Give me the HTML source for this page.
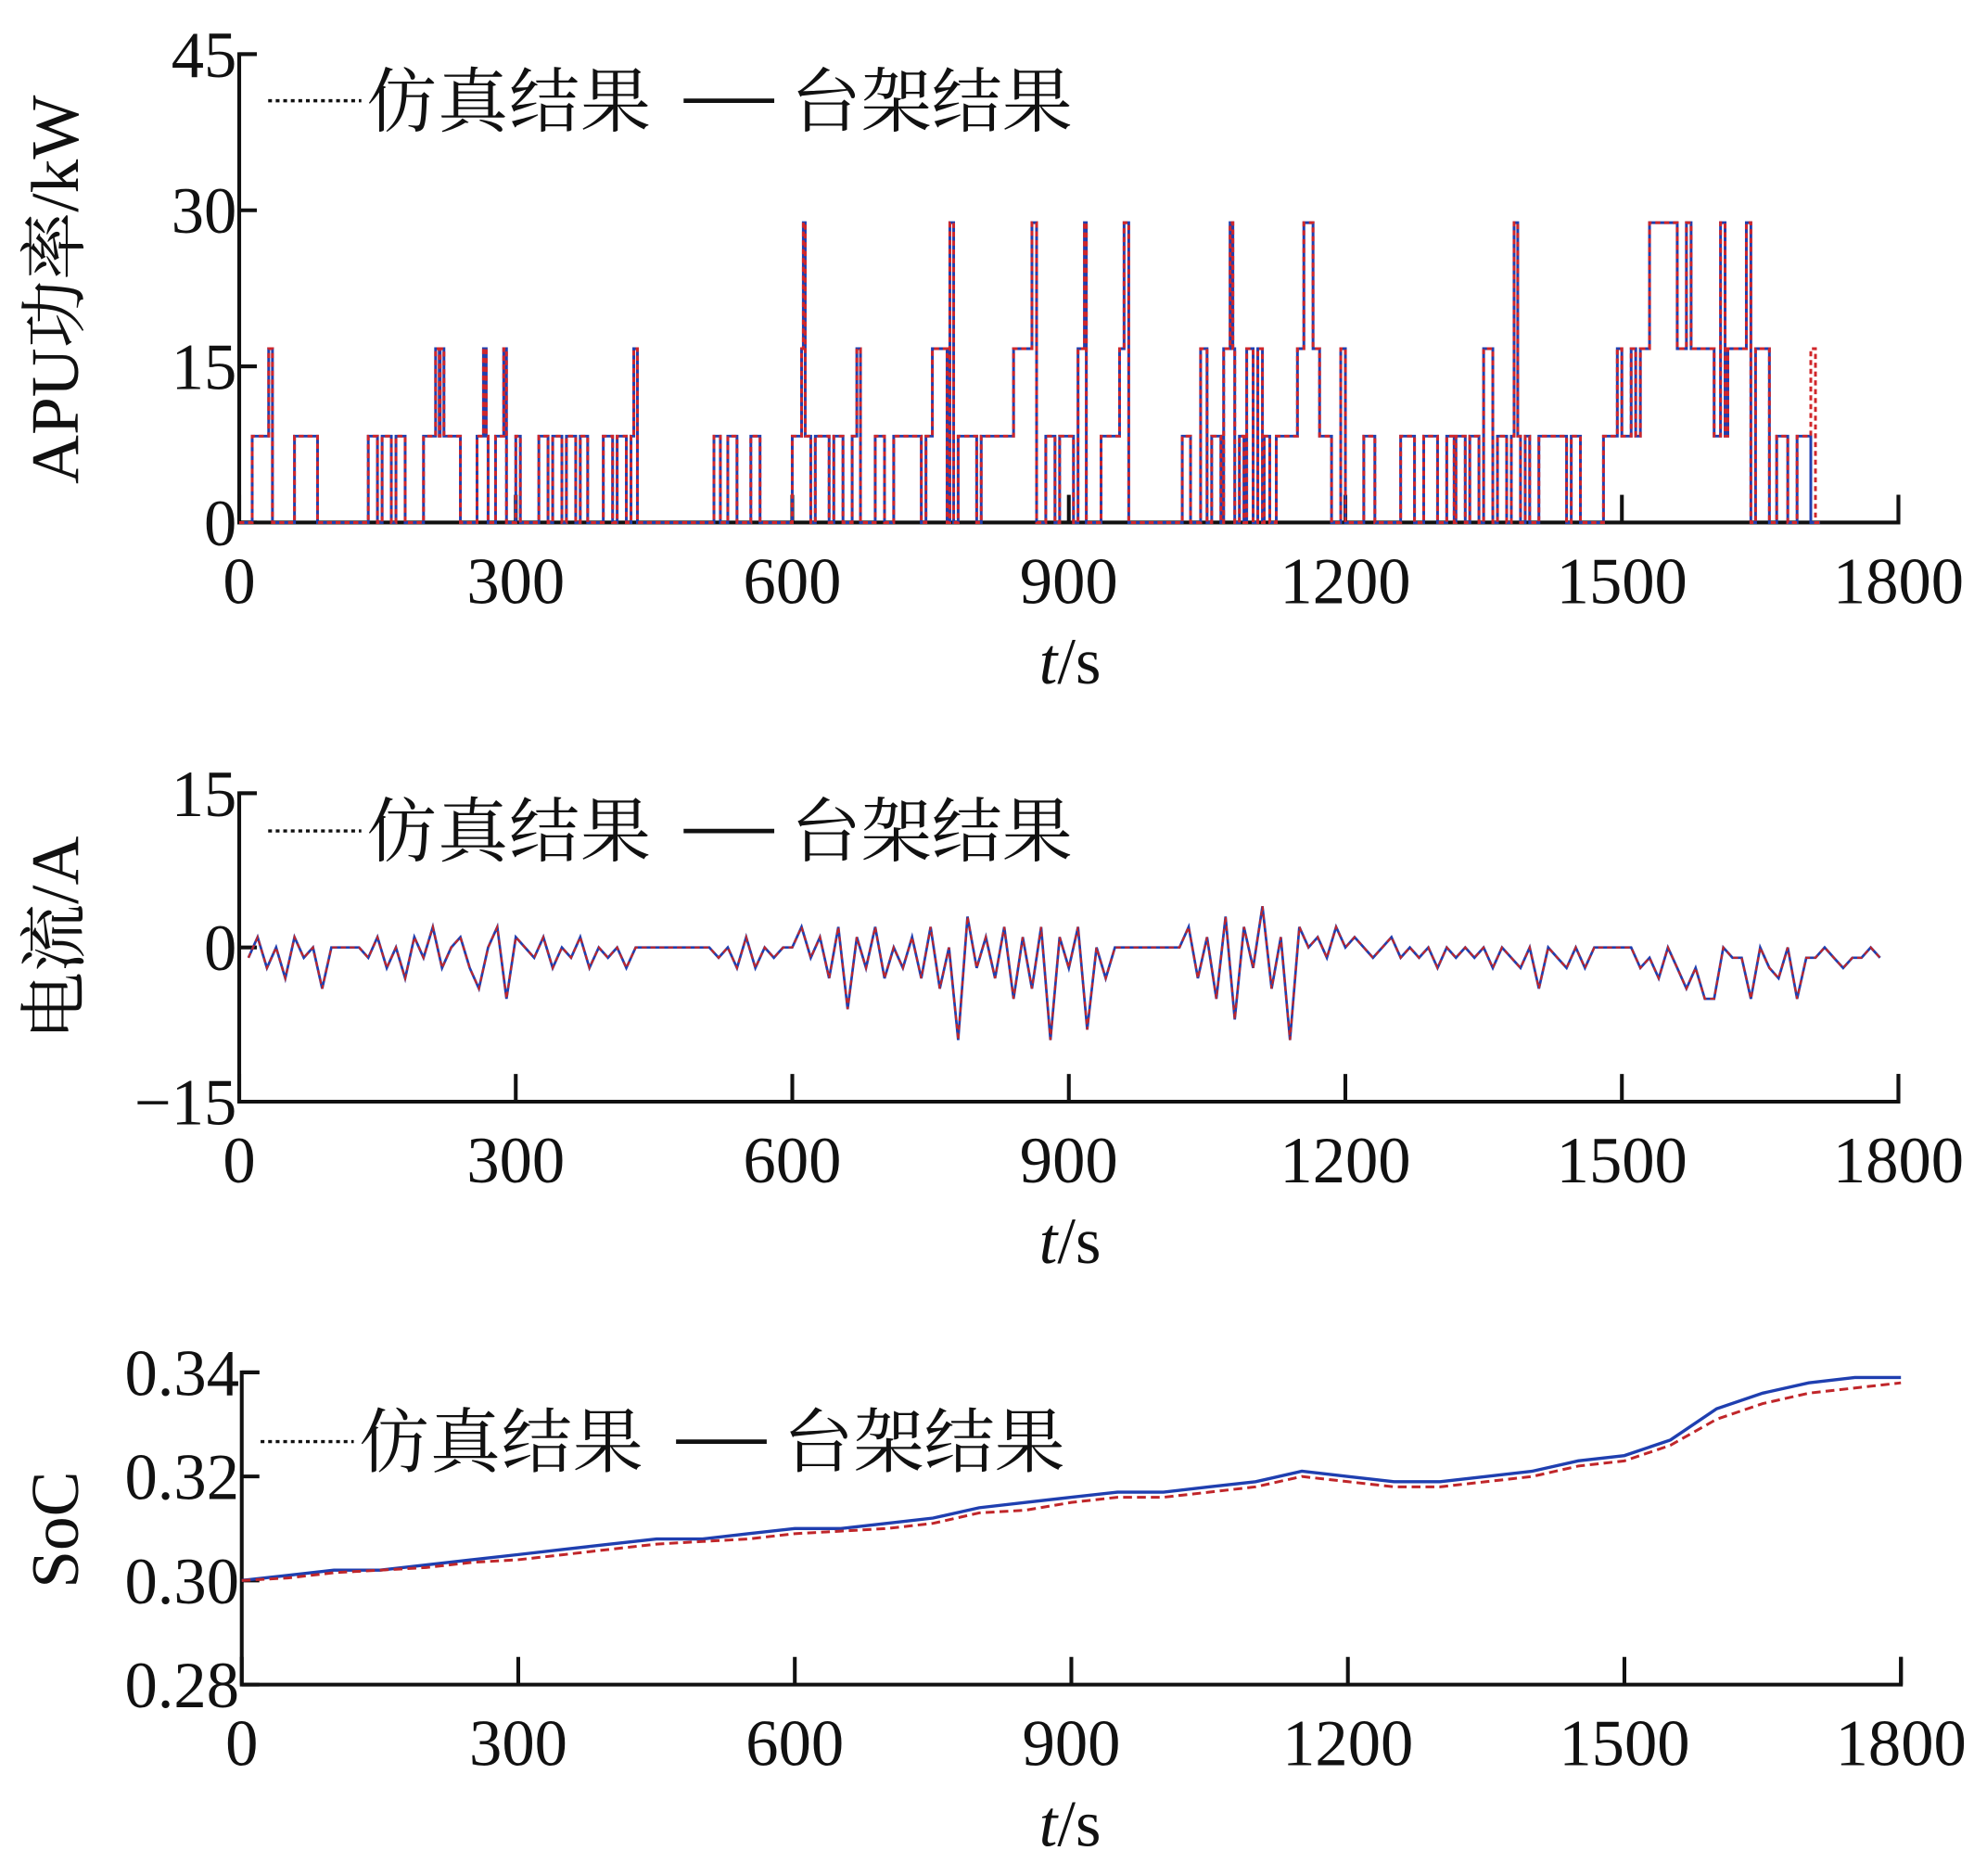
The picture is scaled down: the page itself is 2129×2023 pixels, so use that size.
<!DOCTYPE html>
<html><head><meta charset="utf-8">
<style>
html,body{margin:0;padding:0;background:#fff;}
svg{display:block;}
.tk{font-family:"Liberation Serif","Noto Serif CJK SC",serif;font-size:52px;fill:#111;}
.lg{font-family:"Liberation Serif","Noto Serif CJK SC",serif;font-size:56px;fill:#111;}
.yt{font-family:"Liberation Serif","Noto Serif CJK SC",serif;font-size:54px;fill:#111;}
</style></head>
<body>
<svg id="chart" width="2129" height="2023" viewBox="0 0 1568 1490" xmlns="http://www.w3.org/2000/svg"></svg>
<script>
// ---- Panel 1 data: APU power pulses (s, s, kW) ----
const apuStart=[14,32,60,140,155,170,200,213,218,258,265,278,287,300,325,340,355,370,395,410,425,428,515,530,555,600,610,612,625,645,665,670,690,710,720,745,752,771,780,805,820,840,860,875,890,910,917,935,945,955,960,1023,1043,1055,1068,1070,1075,1085,1093,1105,1112,1125,1140,1148,1155,1195,1220,1260,1285,1310,1320,1335,1350,1365,1380,1383,1395,1410,1445,1480,1495,1510,1520,1530,1570,1600,1607,1615,1635,1645,1668,1690];
const apuEnd=[36,36,85,150,165,180,240,217,222,270,268,290,290,305,335,350,365,378,405,420,432,432,522,540,565,620,614,614,640,655,670,674,700,720,740,760,768,775,800,820,850,860,865,885,905,918,919,945,955,962,965,1032,1050,1065,1075,1080,1078,1090,1100,1110,1118,1140,1185,1172,1165,1200,1232,1275,1300,1318,1330,1345,1360,1375,1390,1387,1400,1440,1455,1530,1500,1515,1600,1560,1575,1620,1612,1640,1640,1660,1680,1705];
const apuLevel=[8.3,16.7,8.3,8.3,8.3,8.3,8.3,16.7,16.7,8.3,16.7,8.3,16.7,8.3,8.3,8.3,8.3,8.3,8.3,8.3,8.3,16.7,8.3,8.3,8.3,8.3,16.7,28.8,8.3,8.3,8.3,16.7,8.3,8.3,8.3,8.3,16.7,28.8,8.3,8.3,8.3,16.7,28.8,8.3,8.3,16.7,28.8,8.3,8.3,16.7,28.8,8.3,16.7,8.3,16.7,16.7,28.8,8.3,16.7,16.7,8.3,8.3,8.3,16.7,28.8,16.7,8.3,8.3,8.3,8.3,8.3,8.3,16.7,8.3,8.3,28.8,8.3,8.3,8.3,8.3,16.7,16.7,16.7,28.8,28.8,8.3,28.8,16.7,28.8,16.7,8.3,8.3];
const apuSimExtraStart=[1705];const apuSimExtraEnd=[1710];const apuSimExtraLevel=[16.7];
// ---- Panel 2 data: current every 10 s from t=10 ----
const curr=[-1,1,-2,0,-3,1,-1,0,-4,0,0,0,0,-1,1,-2,0,-3,1,-1,2,-2,0,1,-2,-4,0,2,-5,1,0,-1,1,-2,0,-1,1,-2,0,-1,0,-2,0,0,0,0,0,0,0,0,0,-1,0,-2,1,-2,0,-1,0,0,2,-1,1,-3,2,-6,1,-2,2,-3,0,-2,1,-3,2,-4,0,-9,3,-2,1,-3,2,-5,1,-4,2,-9,1,-2,2,-8,0,-3,0,0,0,0,0,0,0,0,2,-3,1,-5,3,-7,2,-2,4,-4,1,-9,2,0,1,-1,2,0,1,0,-1,0,1,-1,0,-1,0,-2,0,-1,0,-1,0,-2,0,-1,-2,0,-4,0,-1,-2,0,-2,0,0,0,0,0,-2,-1,-3,0,-2,-4,-2,-5,-5,0,-1,-1,-5,0,-2,-3,0,-5,-1,-1,0,-1,-2,-1,-1,0,-1];
// ---- Panel 3 data: SoC every 50 s ----
const socT=[0,50,100,150,200,250,300,350,400,450,500,550,600,650,700,750,800,850,900,950,1000,1050,1100,1150,1200,1250,1300,1350,1400,1450,1500,1550,1600,1650,1700,1750,1800];
const socBench=[.300,.301,.302,.302,.303,.304,.305,.306,.307,.308,.308,.309,.310,.310,.311,.312,.314,.315,.316,.317,.317,.318,.319,.321,.320,.319,.319,.320,.321,.323,.324,.327,.333,.336,.338,.339,.339];
const socSim=[.300,.3005,.3015,.302,.3025,.3035,.304,.305,.306,.307,.3075,.308,.309,.3095,.310,.311,.313,.3135,.315,.316,.316,.317,.318,.320,.319,.318,.318,.319,.320,.322,.323,.326,.331,.334,.336,.337,.338];
const xTicks=[0,300,600,900,1200,1500,1800];

const NS="http://www.w3.org/2000/svg";
const svg=document.getElementById('chart');
function mk(tag,attrs,parent,txt){const e=document.createElementNS(NS,tag);for(const k in attrs)e.setAttribute(k,attrs[k]);if(txt!==undefined)e.textContent=txt;(parent||svg).appendChild(e);return e;}

function panel(p){
  const g=mk('g',{});
  
  
  const X=t=>p.x0+(t/1800)*(p.x1-p.x0);
  const Y=v=>p.y1-(v-p.vmin)/(p.vmax-p.vmin)*(p.y1-p.y0);
  p.X=X;p.Y=Y;
  const ax=mk('path',{d:`M${p.x0+14},${p.y0}H${p.x0}V${p.y1}H${p.x1}V${p.y1-22}`,fill:'none',stroke:'#111','stroke-width':3},g);
  
  
  xTicks.forEach(t=>{
    mk('line',{x1:X(t),x2:X(t),y1:p.y1,y2:p.y1-22,stroke:'#111','stroke-width':3},g);
    const tl=mk('text',{x:X(t),y:p.y1+64,'text-anchor':'middle',class:'tk'},g,String(t));
    
    
  });
  p.yt.forEach((v,i)=>{
    mk('line',{x1:p.x0,x2:p.x0+14,y1:Y(v),y2:Y(v),stroke:'#111','stroke-width':3},g);
    const tl=mk('text',{x:p.x0-2,y:Y(v)+18,'text-anchor':'end',class:'tk'},g,p.ytl[i]);
    
    
  });
  const xl=mk('text',{x:850,y:p.y1+128,'text-anchor':'middle',class:'tk'},g);
  
  
  mk('tspan',{'font-style':'italic'},xl,'t');mk('tspan',{},xl,'/s');
  const yl=mk('text',{x:0,y:0,'text-anchor':'middle',class:'yt',transform:`translate(62,${p.ylY}) rotate(-90)`},g,p.ylabel);
  
  
  const ly=p.legY;
  const lg=mk('g',{},g);
  
  
  mk('line',{x1:p.legX,x2:p.legX+74,y1:ly,y2:ly,stroke:'#111','stroke-width':2.5,'stroke-dasharray':'3,3'},lg);
  mk('text',{x:p.legX+78,y:ly+20,class:'lg','textLength':226},lg,'仿真结果');
  mk('line',{x1:p.legX+330,x2:p.legX+402,y1:ly,y2:ly,stroke:'#111','stroke-width':3.5},lg);
  mk('text',{x:p.legX+415,y:ly+20,class:'lg','textLength':224},lg,'台架结果');
  return g;
}
function level(t,S,E,L){let m=0;for(let i=0;i<S.length;i++)if(t>=S[i]&&t<E[i]&&L[i]>m)m=L[i];return m;}

// Panel 1
const p1={name:'apu-power-panel',x0:190,x1:1508,y0:43,y1:415,vmin:0,vmax:45,yt:[0,15,30,45],ytl:['0','15','30','45'],ylabel:'APU功率/kW',ylY:230,legX:213,legY:80};
const g1=panel(p1);
function stepPath(fn){let d='';let prev=null;for(let t=0;t<=1715;t++){const v=fn(t);const x=p1.X(t).toFixed(1),y=p1.Y(v).toFixed(1);if(prev===null)d+=`M${x},${y}`;else if(v!==prev)d+=`H${x}V${y}`;prev=v;}d+=`H${p1.X(1715).toFixed(1)}`;return d;}
const b1=mk('path',{d:stepPath(t=>level(t,apuStart,apuEnd,apuLevel)),fill:'none',stroke:'#1f3fb0','stroke-width':2.2},g1);


const s1=mk('path',{d:stepPath(t=>Math.max(level(t,apuStart,apuEnd,apuLevel),level(t,apuSimExtraStart,apuSimExtraEnd,apuSimExtraLevel))),fill:'none',stroke:'#d0262a','stroke-width':2.2,'stroke-dasharray':'4,3'},g1);



// Panel 2
const p2={name:'current-panel',x0:190,x1:1508,y0:630,y1:875,vmin:-15,vmax:15,yt:[-15,0,15],ytl:['−15','0','15'],ylabel:'电流/A',ylY:745,legX:213,legY:660};
const g2=panel(p2);
let d2='';curr.forEach((v,i)=>{d2+=(i?'L':'M')+p2.X(10+10*i).toFixed(1)+','+p2.Y(v).toFixed(1);});
const b2=mk('path',{d:d2,fill:'none',stroke:'#1f3fb0','stroke-width':2},g2);


const s2=mk('path',{d:d2,fill:'none',stroke:'#c0262a','stroke-width':1.6,'stroke-dasharray':'4,3'},g2);



// Panel 3
const p3={name:'soc-panel',x0:192,x1:1510,y0:1090,y1:1338,vmin:0.28,vmax:0.34,yt:[0.28,0.30,0.32,0.34],ytl:['0.28','0.30','0.32','0.34'],ylabel:'SoC',ylY:1215,legX:207,legY:1145};
const g3=panel(p3);
function ln(arr){let d='';arr.forEach((v,i)=>{d+=(i?'L':'M')+p3.X(socT[i]).toFixed(1)+','+p3.Y(v).toFixed(1);});return d;}
const b3=mk('path',{d:ln(socBench),fill:'none',stroke:'#1f3fb0','stroke-width':2.5},g3);


const s3=mk('path',{d:ln(socSim),fill:'none',stroke:'#c0262a','stroke-width':2.2,'stroke-dasharray':'7,4'},g3);


</script>
</body></html>
